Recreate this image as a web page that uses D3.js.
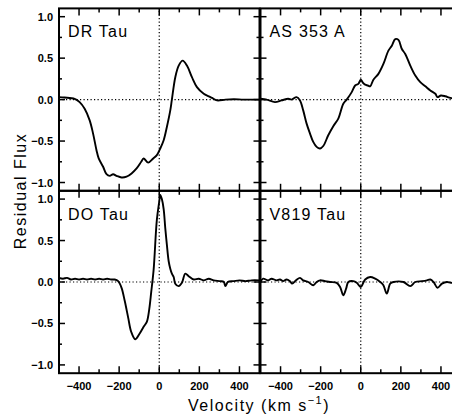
<!DOCTYPE html>
<html><head><meta charset="utf-8">
<script src="https://cdn.jsdelivr.net/npm/d3@7"></script>
<style>body{margin:0;background:#fff}svg{display:block}</style>
</head><body>
<script>
// ---- data ----
const drTauV = [-500,-472,-422,-397,-372,-347,-330,-313,-302,-280,-263,-247,-230,-213,-188,-163,-138,-113,-90,-78,-55,-30,-12,5,22,38,55,63,80,97,117,138,163,188,222,247,263,288,330,372,420,500];
const drTauF = [0.03,0.025,0.01,-0.03,-0.11,-0.25,-0.41,-0.61,-0.71,-0.81,-0.90,-0.92,-0.90,-0.92,-0.94,-0.93,-0.89,-0.83,-0.75,-0.71,-0.76,-0.71,-0.67,-0.59,-0.49,-0.33,-0.13,0.0,0.27,0.41,0.47,0.41,0.27,0.15,0.07,0.04,0.02,-0.01,0.0,0.005,0.0,0.0];

const as353V = [-500,-470,-428,-395,-362,-345,-320,-303,-287,-270,-253,-237,-220,-203,-187,-162,-137,-112,-87,-70,-45,-28,-12,0,12,22,35,47,63,88,113,138,155,172,188,205,222,247,272,297,322,347,372,383,400,422,447,475,500];
const as353F = [0.01,0.0,-0.03,-0.01,0.01,0.0,0.03,-0.01,-0.13,-0.29,-0.41,-0.51,-0.57,-0.59,-0.56,-0.43,-0.32,-0.23,-0.05,0.0,0.09,0.17,0.19,0.24,0.20,0.18,0.17,0.16,0.24,0.31,0.43,0.59,0.65,0.73,0.72,0.61,0.55,0.41,0.29,0.21,0.16,0.11,0.07,0.03,0.05,0.04,0.02,0.01,0.01];

const doTauV = [-500,-480,-460,-440,-420,-400,-380,-360,-340,-320,-300,-280,-260,-240,-222,-205,-188,-172,-155,-140,-120,-100,-78,-62,-50,-40,-28,-12,0,5,13,22,30,38,47,55,63,72,80,97,113,130,147,172,197,222,247,272,305,322,330,342,370,400,430,460,500];
const doTauF = [0.05,0.04,0.05,0.03,0.04,0.03,0.04,0.03,0.04,0.03,0.04,0.03,0.04,0.03,0.03,0.01,-0.07,-0.23,-0.43,-0.60,-0.69,-0.63,-0.54,-0.48,-0.33,-0.12,0.15,0.75,0.97,1.05,1.0,0.88,0.65,0.45,0.25,0.16,0.10,0.06,-0.02,-0.05,-0.01,0.10,0.07,0.03,0.04,0.02,0.04,0.02,0.01,0.0,-0.05,0.0,0.01,0.02,0.01,0.02,0.02];

const v819V = [-500,-487,-462,-445,-420,-403,-387,-370,-353,-342,-323,-303,-287,-262,-237,-220,-203,-178,-153,-120,-103,-87,-73,-62,-37,-20,0,22,47,72,97,113,130,147,163,213,247,272,305,330,347,363,383,405,430,450,475,500];
const v819F = [0.0,0.04,0.02,0.04,0.02,0.03,0.01,0.03,0.01,-0.02,0.02,0.05,0.02,0.0,-0.04,0.0,0.02,0.01,0.0,-0.01,-0.06,-0.16,-0.08,0.0,0.01,-0.01,-0.06,0.03,0.06,0.04,0.0,-0.04,-0.14,-0.02,0.0,0.0,-0.05,0.0,0.01,0.02,0.03,0.0,-0.07,-0.02,0.0,-0.01,0.0,0.0];

const starNames = ["DR Tau", "AS 353 A", "DO Tau", "V819 Tau"];
const xTickValues = [-400, -200, 0, 200, 400];
const xTickLabels = ["\u2212400", "\u2212200", "0", "200", "400"];
const yTickValues = [1.0, 0.5, 0.0, -0.5, -1.0];
const yTickLabels = ["1.0", "0.5", "0.0", "\u22120.5", "\u22121.0"];
const xLabel = "Velocity (km s";
const yLabel = "Residual Flux";

// ---- layout ----
const W = 452, H = 416;
const svg = d3.select("body").append("svg").attr("width", W).attr("height", H);

const colX = [[59, 259.5], [260.5, 461]];
const rowY = [[8.4, 190.8], [190.8, 373.2]];
const series = [[drTauV, drTauF], [as353V, as353F], [doTauV, doTauF], [v819V, v819F]];

const fontTick = "'Liberation Sans', Arial, sans-serif";

series.forEach((s, i) => {
  const col = i % 2, row = Math.floor(i / 2);
  const x = d3.scaleLinear().domain([-500, 500]).range(colX[col]);
  const y = d3.scaleLinear().domain([-1.1, 1.1]).range([rowY[row][1], rowY[row][0]]);
  const g = svg.append("g");

  // dotted zero lines
  g.append("line").attr("x1", x(-500)).attr("x2", x(500)).attr("y1", y(0)).attr("y2", y(0))
    .attr("stroke", "#000").attr("stroke-width", 1.2).attr("stroke-dasharray", "1.2,2.3");
  g.append("line").attr("x1", x(0)).attr("x2", x(0)).attr("y1", y(-1.1)).attr("y2", y(1.1))
    .attr("stroke", "#000").attr("stroke-width", 1.2).attr("stroke-dasharray", "1.2,2.3");

  // curve
  const pts = s[0].map((v, k) => [v, s[1][k]]);
  g.append("path").datum(pts)
    .attr("d", d3.line().x(d => x(d[0])).y(d => y(d[1])).curve(d3.curveCatmullRom.alpha(0.5)))
    .attr("fill", "none").attr("stroke", "#000").attr("stroke-width", 1.9).attr("stroke-linejoin", "round");

  // frame
  g.append("rect").attr("x", x(-500)).attr("y", y(1.1)).attr("width", x(500) - x(-500)).attr("height", y(-1.1) - y(1.1))
    .attr("fill", "none").attr("stroke", "#000").attr("stroke-width", 2);

  // x ticks
  d3.range(-400, 500, 100).forEach(v => {
    const len = (v % 200 === 0) ? 7 : 4;
    g.append("line").attr("x1", x(v)).attr("x2", x(v)).attr("y1", y(1.1)).attr("y2", y(1.1) + len).attr("stroke", "#000").attr("stroke-width", 1.5);
    g.append("line").attr("x1", x(v)).attr("x2", x(v)).attr("y1", y(-1.1)).attr("y2", y(-1.1) - len).attr("stroke", "#000").attr("stroke-width", 1.5);
  });
  // y ticks
  d3.range(-1, 1.01, 0.25).forEach(f => {
    const len = (Math.abs(f * 2 - Math.round(f * 2)) < 1e-6) ? 6 : 3;
    g.append("line").attr("x1", x(-500)).attr("x2", x(-500) + len).attr("y1", y(f)).attr("y2", y(f)).attr("stroke", "#000").attr("stroke-width", 1.5);
    g.append("line").attr("x1", x(500)).attr("x2", x(500) - len).attr("y1", y(f)).attr("y2", y(f)).attr("stroke", "#000").attr("stroke-width", 1.5);
  });

  // tick labels
  if (col === 0) {
    yTickValues.forEach((f, k) => {
      g.append("text").attr("x", x(-500) - 6).attr("y", y(f) + 4).attr("text-anchor", "end")
        .attr("font-family", fontTick).attr("font-size", 11).attr("font-weight", "bold").text(yTickLabels[k]);
    });
  }
  if (row === 1) {
    xTickValues.forEach((v, k) => {
      g.append("text").attr("x", x(v)).attr("y", y(-1.1) + 17).attr("text-anchor", "middle")
        .attr("font-family", fontTick).attr("font-size", 11).attr("font-weight", "bold").text(xTickLabels[k]);
    });
  }

  // star name
  g.append("text").attr("x", x(-500) + 9).attr("y", y(1.1) + 29)
    .attr("font-family", fontTick).attr("font-size", 16).attr("letter-spacing", "1.2px").text(starNames[i]);
});

// axis titles
svg.append("text").attr("transform", "translate(26,191) rotate(-90)").attr("text-anchor", "middle")
  .attr("font-family", fontTick).attr("font-size", 16).attr("letter-spacing", "1.5px").text(yLabel);
const xt = svg.append("text").attr("x", 259).attr("y", 411).attr("text-anchor", "middle")
  .attr("font-family", fontTick).attr("font-size", 16).attr("letter-spacing", "1.5px");
xt.append("tspan").text(xLabel);
xt.append("tspan").attr("dy", -7).attr("font-size", 11).text("\u22121");
xt.append("tspan").attr("dy", 7).text(")");
</script>
</body></html>
